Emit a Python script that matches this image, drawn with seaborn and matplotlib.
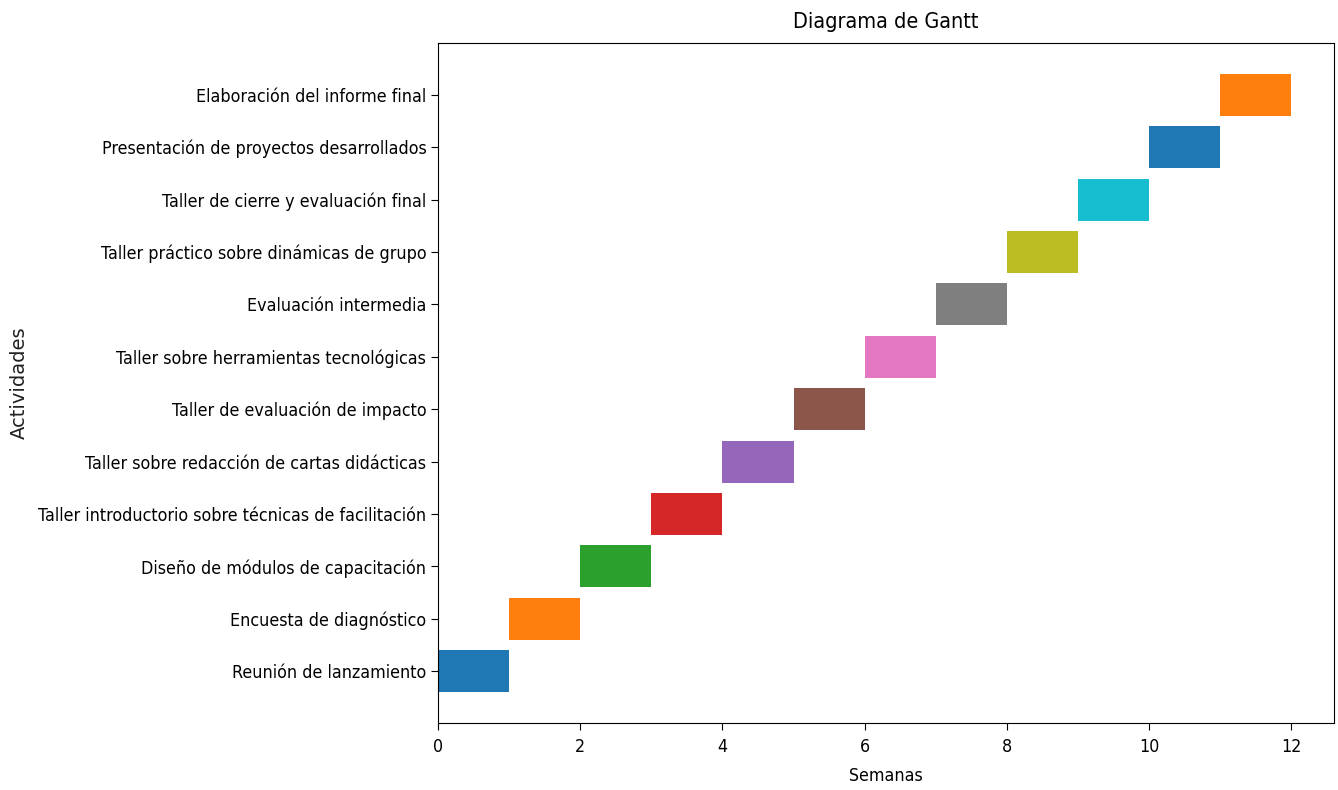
import seaborn as sns
import matplotlib.pyplot as plt

actividades = [
    'Reunión de lanzamiento',
    'Encuesta de diagnóstico',
    'Diseño de módulos de capacitación',
    'Taller introductorio sobre técnicas de facilitación',
    'Taller sobre redacción de cartas didácticas',
    'Taller de evaluación de impacto',
    'Taller sobre herramientas tecnológicas',
    'Evaluación intermedia',
    'Taller práctico sobre dinámicas de grupo',
    'Taller de cierre y evaluación final',
    'Presentación de proyectos desarrollados',
    'Elaboración del informe final',
]
inicio = [0, 1, 2, 3, 4, 5, 6, 7, 8, 9, 10, 11]
duracion = [1, 1, 1, 1, 1, 1, 1, 1, 1, 1, 1, 1]

colores = sns.color_palette('tab10', 10)

fig = plt.figure(figsize=(13.38, 7.9), dpi=100)
ax = fig.add_axes([0.3274, 0.0848, 0.6696, 0.8608])

for i, (act, ini, dur) in enumerate(zip(actividades, inicio, duracion)):
    ax.barh(act, dur, left=ini, height=0.8, color=colores[i % 10])

cond = dict(family='DejaVu Sans', stretch='condensed')
ax.set_title('Diagrama de Gantt', fontsize=15.5, pad=11, **cond)
ax.set_xlabel('Semanas', fontsize=12.8, labelpad=8, **cond)
ax.set_ylabel('Actividades', fontsize=14, color='#222222')
ax.yaxis.set_label_coords(-0.457, 0.5)
ax.tick_params(axis='y', labelsize=12.8, length=5)
ax.tick_params(axis='x', labelsize=12.8, length=5, pad=6)
for lab in ax.get_yticklabels() + ax.get_xticklabels():
    lab.set_fontstretch('condensed')

fig.savefig('out.png', dpi=100)
